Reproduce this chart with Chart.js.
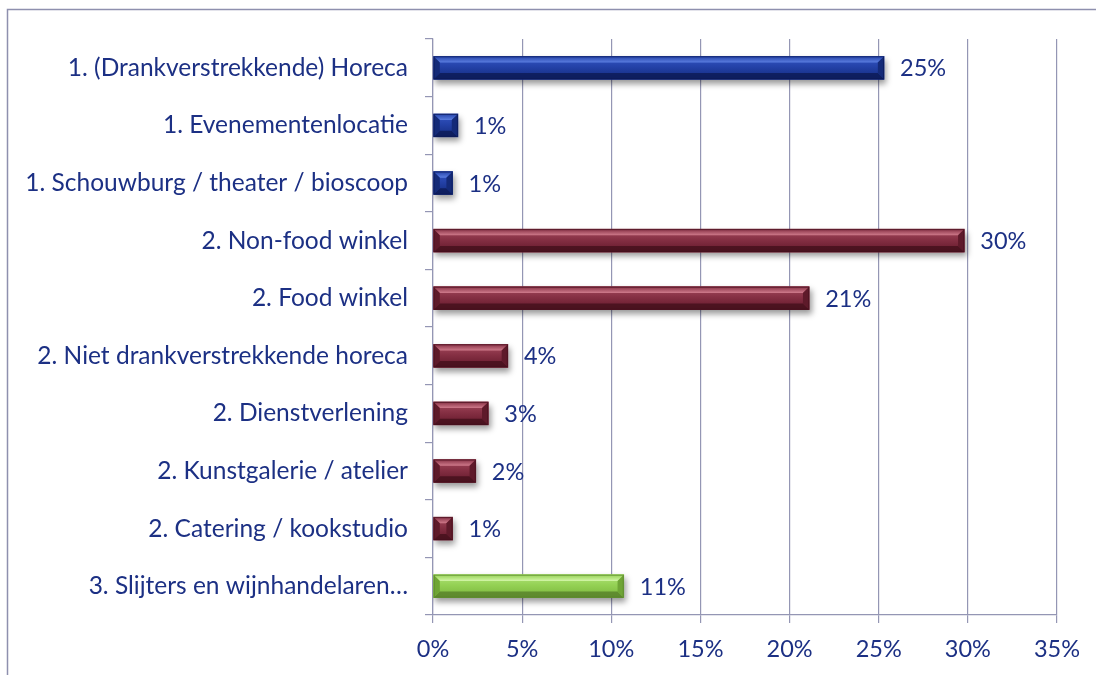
<!DOCTYPE html>
<html>
<head>
<meta charset="utf-8">
<script src="https://cdn.jsdelivr.net/npm/chart.js@4.4.0/dist/chart.umd.min.js"></script>
<style>
  html, body { margin: 0; padding: 0; background: #ffffff; }
  #wrap { position: relative; width: 1096px; height: 675px; }
  canvas { display: block; }
</style>
</head>
<body>
<div id="wrap"><canvas id="c" width="1096" height="675"></canvas></div>
<script>
// ---- data ----
const categories = [
  "1. (Drankverstrekkende) Horeca",
  "1. Evenementenlocatie",
  "1. Schouwburg / theater / bioscoop",
  "2. Non-food winkel",
  "2. Food winkel",
  "2. Niet drankverstrekkende horeca",
  "2. Dienstverlening",
  "2. Kunstgalerie / atelier",
  "2. Catering / kookstudio",
  "3. Slijters en wijnhandelaren\u2026"
];
const values = [25.3, 1.4, 1.1, 29.8, 21.1, 4.2, 3.1, 2.4, 1.1, 10.7];
const groups = [1, 1, 1, 2, 2, 2, 2, 2, 2, 3];
const xTicks = [0, 5, 10, 15, 20, 25, 30, 35];

// ---- styles ----
const TEXT = "#1c3084";
const GRID = "#9496b4";
const FONT = "Lato";
const palette = {
  1: { base: "#1f3792", top: "#3556c4", mid: "#2442a8", bot: "#132a7e", hi: "#5b7ee0", lo: "#0c1a55", end: "#142a78" },
  2: { base: "#7c283b", top: "#a54a5e", mid: "#863044", bot: "#62182a", hi: "#cf7a8b", lo: "#44101c", end: "#5e1a2a" },
  3: { base: "#8fcc4e", top: "#b0e279", mid: "#94d154", bot: "#79b43c", hi: "#d2f5a6", lo: "#577f2b", end: "#6fa536" }
};

const bevelPlugin = {
  id: "bevel",
  beforeDatasetDraw(chart) {
    const ctx = chart.ctx;
    ctx.save();
    ctx.shadowColor = "rgba(0,0,0,0.4)";
    ctx.shadowBlur = 6;
    ctx.shadowOffsetX = 2;
    ctx.shadowOffsetY = 4;
  },
  afterDatasetDraw(chart) {
    const ctx = chart.ctx;
    ctx.restore();
    const meta = chart.getDatasetMeta(0);
    meta.data.forEach((el, i) => {
      const p = palette[groups[i]];
      const x0 = Math.min(el.base, el.x), x1 = Math.max(el.base, el.x);
      const h = el.height;
      const y0 = el.y - h / 2, y1 = el.y + h / 2;
      const w = x1 - x0;
      const b = Math.min(h * 0.27, w / 2);
      ctx.save();
      const g = ctx.createLinearGradient(0, y0, 0, y1);
      g.addColorStop(0, p.top);
      g.addColorStop(0.45, p.mid);
      g.addColorStop(1, p.bot);
      ctx.fillStyle = g;
      ctx.fillRect(x0, y0, w, h);
      ctx.beginPath();
      ctx.moveTo(x0, y0); ctx.lineTo(x1, y0); ctx.lineTo(x1 - b, y0 + b); ctx.lineTo(x0 + b, y0 + b); ctx.closePath();
      const gt = ctx.createLinearGradient(0, y0, 0, y0 + b);
      gt.addColorStop(0, p.mid); gt.addColorStop(1, p.hi);
      ctx.fillStyle = gt; ctx.fill();
      ctx.beginPath();
      ctx.moveTo(x0, y1); ctx.lineTo(x1, y1); ctx.lineTo(x1 - b, y1 - b); ctx.lineTo(x0 + b, y1 - b); ctx.closePath();
      ctx.fillStyle = p.lo; ctx.globalAlpha = 0.8; ctx.fill(); ctx.globalAlpha = 1;
      ctx.beginPath();
      ctx.moveTo(x0, y0); ctx.lineTo(x0 + b, y0 + b); ctx.lineTo(x0 + b, y1 - b); ctx.lineTo(x0, y1); ctx.closePath();
      ctx.fillStyle = p.end; ctx.fill();
      ctx.beginPath();
      ctx.moveTo(x1, y0); ctx.lineTo(x1 - b, y0 + b); ctx.lineTo(x1 - b, y1 - b); ctx.lineTo(x1, y1); ctx.closePath();
      ctx.fillStyle = p.end; ctx.fill();
      ctx.strokeStyle = p.lo; ctx.lineWidth = 1; ctx.globalAlpha = 0.7;
      ctx.strokeRect(x0 + 0.5, y0 + 0.5, w - 1, h - 1);
      ctx.restore();
    });
  },
  afterDatasetsDraw(chart) {
    const ctx = chart.ctx;
    const meta = chart.getDatasetMeta(0);
    ctx.save();
    ctx.font = "23.5px " + FONT;
    ctx.fillStyle = TEXT;
    ctx.textAlign = "left";
    ctx.textBaseline = "middle";
    meta.data.forEach((el, i) => {
      ctx.fillText(Math.round(values[i]) + "%", el.x + 16, el.y + 1);
    });
    ctx.restore();
  },
  beforeDraw(chart) {
    const ctx = chart.ctx;
    ctx.save();
    ctx.strokeStyle = "#8e90ae";
    ctx.lineWidth = 1.5;
    ctx.beginPath();
    ctx.moveTo(7.5, 676); ctx.lineTo(7.5, 9.5); ctx.lineTo(1097, 9.5);
    ctx.stroke();
    ctx.restore();
  }
};

new Chart(document.getElementById("c"), {
  type: "bar",
  data: {
    labels: categories,
    datasets: [{
      data: values,
      backgroundColor: groups.map(g => palette[g].base),
      barThickness: 23,
      borderWidth: 0
    }]
  },
  options: {
    indexAxis: "y",
    responsive: false,
    animation: false,
    devicePixelRatio: 1,
    layout: { padding: { top: 39, right: 39, left: 0, bottom: 0 } },
    plugins: { legend: { display: false }, tooltip: { enabled: false } },
    scales: {
      x: {
        min: 0, max: 35,
        afterBuildTicks(scale) { scale.ticks = xTicks.map(v => ({ value: v })); },
        afterFit(scale) { scale.height = 60; },
        grid: { color: GRID, lineWidth: 1.2, tickLength: 8, drawTicks: true },
        border: { color: GRID, width: 1.2 },
        ticks: {
          color: TEXT, font: { family: FONT, size: 23.5 }, padding: 12,
          callback: v => v + "%"
        }
      },
      y: {
        afterFit(scale) { scale.width = 433; },
        grid: { drawOnChartArea: false, offset: true, color: GRID, lineWidth: 1.2, tickLength: 8 },
        border: { color: GRID, width: 1.2 },
        ticks: { color: TEXT, font: { family: FONT, size: 24.5 }, padding: 17 }
      }
    }
  },
  plugins: [bevelPlugin]
});
</script>
</body>
</html>
